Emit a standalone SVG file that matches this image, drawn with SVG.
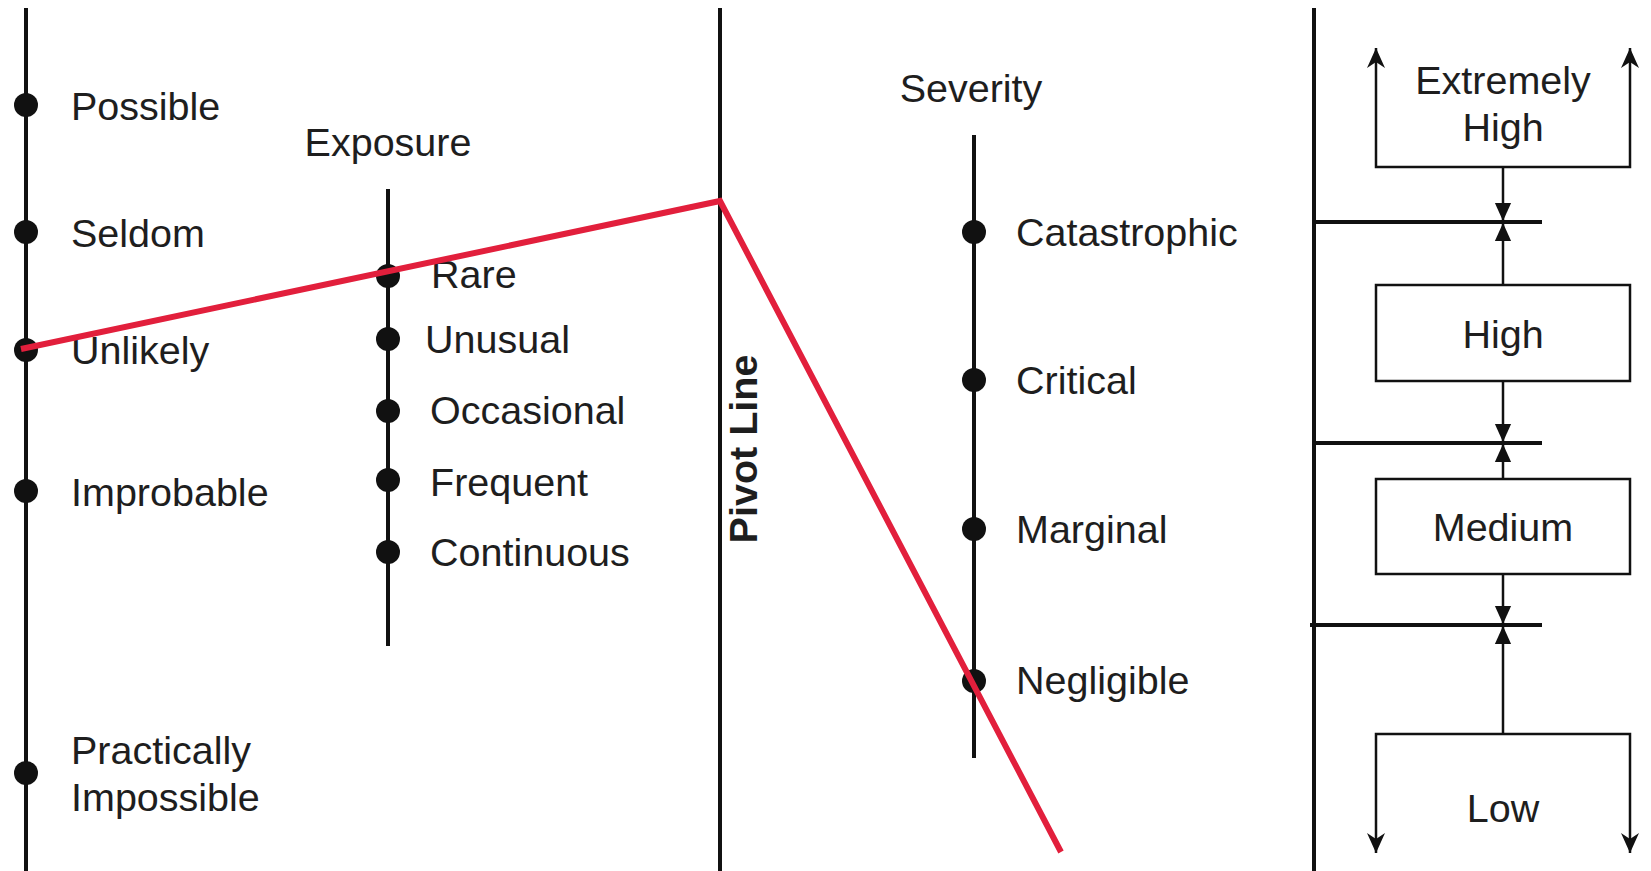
<svg xmlns="http://www.w3.org/2000/svg" width="1651" height="871" viewBox="0 0 1651 871">
<style>
.t{font-family:"Liberation Sans",Arial,sans-serif;font-size:39.5px;fill:#1e1e1e}
.tc{text-anchor:middle}
.ax{stroke:#111;stroke-width:4;fill:none}
.thin{stroke:#111;stroke-width:2.5;fill:none}
.dot{fill:#111}
</style>
<defs>
<marker id="tri" viewBox="0 0 10 10" refX="10" refY="5" markerWidth="18" markerHeight="18" markerUnits="userSpaceOnUse" orient="auto"><path d="M0,0.5 L10,5 L0,9.5 z" fill="#111"/></marker>
<marker id="open" viewBox="0 0 10 10" refX="10" refY="5" markerWidth="20" markerHeight="20" markerUnits="userSpaceOnUse" orient="auto-start-reverse"><path d="M0,0.5 L10,5 L0,9.5 L3,5 z" fill="#111"/></marker>
</defs>
<rect width="1651" height="871" fill="#fff"/>

<g id="probability">
<line class="ax" x1="26" y1="8" x2="26" y2="871"/>
<circle class="dot" cx="26" cy="105" r="12"/>
<circle class="dot" cx="26" cy="232" r="12"/>
<circle class="dot" cx="26" cy="350" r="12"/>
<circle class="dot" cx="26" cy="491" r="12"/>
<circle class="dot" cx="26" cy="773" r="12"/>
<text class="t" x="71" y="120">Possible</text>
<text class="t" x="71" y="247">Seldom</text>
<text class="t" x="71" y="364">Unlikely</text>
<text class="t" x="71" y="506">Improbable</text>
<text class="t" x="71" y="764">Practically</text>
<text class="t" x="71" y="811">Impossible</text>
</g>

<g id="exposure">
<text class="t tc" x="388" y="156">Exposure</text>
<line class="ax" x1="388" y1="189" x2="388" y2="646"/>
<circle class="dot" cx="388" cy="276" r="12"/>
<circle class="dot" cx="388" cy="339" r="12"/>
<circle class="dot" cx="388" cy="411" r="12"/>
<circle class="dot" cx="388" cy="480" r="12"/>
<circle class="dot" cx="388" cy="552" r="12"/>
<text class="t" x="431" y="288">Rare</text>
<text class="t" x="425" y="353">Unusual</text>
<text class="t" x="430" y="424">Occasional</text>
<text class="t" x="430" y="496">Frequent</text>
<text class="t" x="430" y="566">Continuous</text>
</g>

<g id="pivot">
<line class="ax" x1="720" y1="8" x2="720" y2="871"/>
<text class="t tc" transform="translate(757,449) rotate(-90)" style="font-weight:bold">Pivot Line</text>
</g>

<g id="severity">
<text class="t tc" x="971" y="102">Severity</text>
<line class="ax" x1="974" y1="135" x2="974" y2="758"/>
<circle class="dot" cx="974" cy="232" r="12"/>
<circle class="dot" cx="974" cy="380" r="12"/>
<circle class="dot" cx="974" cy="529" r="12"/>
<circle class="dot" cx="974" cy="681" r="12"/>
<text class="t" x="1016" y="246">Catastrophic</text>
<text class="t" x="1016" y="394">Critical</text>
<text class="t" x="1016" y="543">Marginal</text>
<text class="t" x="1016" y="694">Negligible</text>
</g>

<g id="risk-scale">
<line class="ax" x1="1314" y1="8" x2="1314" y2="871"/>
<line class="ax" x1="1312" y1="222" x2="1542" y2="222"/>
<line class="ax" x1="1312" y1="443" x2="1542" y2="443"/>
<line class="ax" x1="1310" y1="625" x2="1542" y2="625"/>
</g>

<g id="extremely-high">
<polyline class="thin" points="1376,48 1376,167 1630,167 1630,48" marker-start="url(#open)" marker-end="url(#open)"/>
<text class="t tc" x="1503" y="94">Extremely</text>
<text class="t tc" x="1503" y="141">High</text>
</g>

<g id="high">
<rect class="thin" x="1376" y="285" width="254" height="96"/>
<text class="t tc" x="1503" y="348">High</text>
</g>

<g id="medium">
<rect class="thin" x="1376" y="479" width="254" height="95"/>
<text class="t tc" x="1503" y="541">Medium</text>
</g>

<g id="low">
<polyline class="thin" points="1376,853 1376,734 1630,734 1630,853" marker-start="url(#open)" marker-end="url(#open)"/>
<text class="t tc" x="1503" y="822">Low</text>
</g>

<g id="connectors">
<line class="thin" x1="1503" y1="167" x2="1503" y2="221" marker-end="url(#tri)"/>
<line class="thin" x1="1503" y1="285" x2="1503" y2="223" marker-end="url(#tri)"/>
<line class="thin" x1="1503" y1="381" x2="1503" y2="442" marker-end="url(#tri)"/>
<line class="thin" x1="1503" y1="479" x2="1503" y2="444" marker-end="url(#tri)"/>
<line class="thin" x1="1503" y1="574" x2="1503" y2="624" marker-end="url(#tri)"/>
<line class="thin" x1="1503" y1="734" x2="1503" y2="626" marker-end="url(#tri)"/>
<polyline points="21,349 720,201 1061,852" fill="none" stroke="#e21f3c" stroke-width="6"/>
</g>
</svg>
